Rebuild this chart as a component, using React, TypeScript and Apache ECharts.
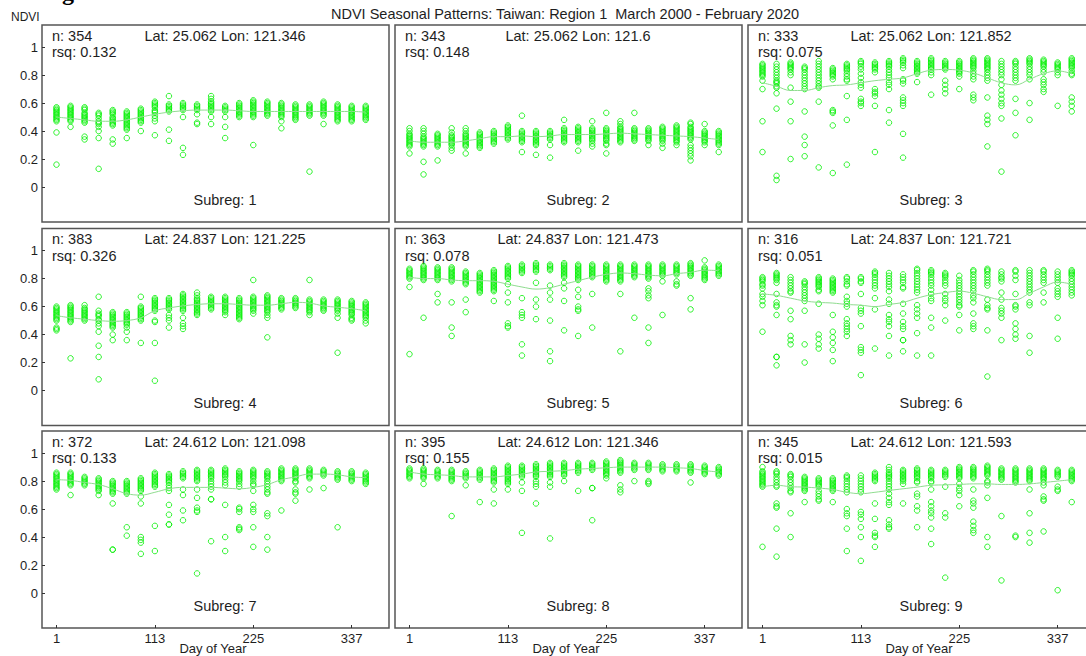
import React, { useEffect, useRef } from "react";
import * as echarts from "echarts";

const DAYS = [1, 17, 33, 49, 65, 81, 97, 113, 129, 145, 161, 177, 193, 209, 225, 241, 257, 273, 289, 305, 321, 337, 353];
const X_TICKS = [1, 113, 225, 337];
const Y_TICKS = [0, 0.2, 0.4, 0.6, 0.8, 1];
const TITLE = "NDVI Seasonal Patterns: Taiwan: Region 1  March 2000 - February 2020";
const SUBREGS = [1, 2, 3, 4, 5, 6, 7, 8, 9];
const N_OBS = [354, 343, 333, 383, 363, 316, 372, 395, 345];
const RSQ = ["0.132", "0.148", "0.075", "0.326", "0.078", "0.051", "0.133", "0.155", "0.015"];
const LAT = ["25.062", "25.062", "25.062", "24.837", "24.837", "24.837", "24.612", "24.612", "24.612"];
const LON = ["121.346", "121.6", "121.852", "121.225", "121.473", "121.721", "121.098", "121.346", "121.593"];

// NDVI values (x100) per 16-day composite column
const P1 = [
  [57,56,55,54,53,52,51,50,49,48,47,39,16],
  [58,57,56,55,54,53,52,51,50,49,48,47,43],
  [57,56,55,53,52,51,50,49,48,47,46,36,34],
  [53,52,51,49,47,46,45,43,40,35,13],
  [55,54,53,52,50,49,48,47,46,45,44,34,31],
  [54,53,52,51,50,49,48,47,46,45,44,43,42,41,35],
  [56,55,54,53,52,51,50,49,48,47,46,40],
  [61,60,59,58,57,55,54,53,51,49,47,37],
  [65,59,58,57,56,55,54,41,33],
  [60,59,58,57,56,55,50,28,23],
  [59,58,57,56,55,52,46,45],
  [65,63,61,60,59,58,57,56,55,54,50,45],
  [58,57,56,55,54,50,43,35],
  [60,59,58,57,56,55,54,53,52,51,50],
  [62,61,60,59,58,57,56,55,54,53,52,51,50,30],
  [61,60,59,58,57,56,55,54,53,52,51],
  [60,59,58,57,56,55,54,53,52,51,50,47,42],
  [59,58,57,56,55,54,53,52,51,50,49,48],
  [59,58,57,56,55,54,53,52,51,11],
  [61,60,59,58,57,56,55,54,53,52,51,45],
  [59,58,57,56,55,54,53,52,51,50,49,48,47],
  [58,57,56,55,54,53,52,51,50,49,48,47],
  [58,57,56,55,54,53,52,51,50,49,48],
];
const P2 = [
  [42,40,38,37,36,35,34,33,32,31,30,29,24],
  [42,40,38,36,35,34,33,32,31,30,29,18,9],
  [38,37,36,35,34,33,32,31,30,29,19],
  [42,39,37,36,35,34,33,32,31,30,28,26],
  [42,40,38,37,36,35,34,33,32,31,30,29,24],
  [39,38,37,36,35,34,33,32,31,30,29,28],
  [40,39,38,37,36,35,34,33,32,31],
  [44,43,42,41,40,39,38,37,36,35,34],
  [51,40,39,38,37,36,35,34,33,32,25],
  [40,39,38,37,36,35,34,33,32,31,30,23],
  [40,39,38,37,36,35,34,30,21],
  [48,42,41,40,39,38,37,36,35,34,33,32],
  [43,42,41,40,39,38,37,36,35,34,33,32,26],
  [47,42,41,40,39,38,37,36,35,34,33,31,29],
  [53,42,41,40,39,38,37,36,35,34,33,31,30,24],
  [47,45,43,42,41,40,39,38,37,36,35,34,33,32],
  [53,42,41,40,39,38,37,36,35,34,33],
  [42,41,40,39,38,37,36,35,34,33,30],
  [43,42,41,40,39,38,37,36,35,34,33,31,28],
  [44,43,42,41,40,39,38,37,36,35,34,33,32,30],
  [46,45,43,42,41,40,39,38,37,36,35,34,30,28,26,24,22,19],
  [45,40,39,38,37,36,35,34,33,32,30],
  [40,39,38,37,36,35,34,33,32,31,30,25],
];
const P3 = [
  [88,87,86,85,84,83,82,81,80,79,76,70,47,25],
  [88,86,84,82,80,78,76,75,74,72,71,67,56,8,5],
  [89,88,87,86,85,84,82,80,71,61,47,20],
  [86,85,84,82,80,78,76,74,72,70,54,36,30,22],
  [90,88,86,84,82,80,78,76,74,72,71,61,14],
  [85,84,83,82,81,80,79,77,55,54,53,44,10],
  [88,87,86,85,84,83,81,79,77,76,65,48,16],
  [90,89,88,86,84,81,78,75,73,71,63,61,60,58],
  [89,88,87,86,85,84,82,70,68,67,65,58,25],
  [90,89,88,87,86,84,82,80,78,75,73,70,55,46],
  [92,91,90,89,87,85,77,76,74,64,62,60,58,38,21],
  [90,89,88,87,86,85,84,83,82,81,75],
  [92,91,90,89,88,87,86,85,84,82,80,66],
  [90,89,88,87,86,85,84,76,73,70,67],
  [90,89,88,87,86,85,84,83,82,81,79,70],
  [92,91,90,89,88,87,86,85,83,81,79,77,66,64,62],
  [92,91,90,89,88,87,86,85,84,82,80,78,76,64,51,48,45,29],
  [90,88,86,84,82,80,77,73,69,66,63,60,58,49,11],
  [90,89,88,86,84,82,80,78,76,63,53,37],
  [92,91,90,89,88,86,84,82,80,77,60,48],
  [91,90,89,88,87,86,84,82,77,75,73,70,68],
  [89,88,87,86,85,84,82,80,58],
  [92,91,90,89,88,87,86,85,83,81,80,64,61,58,54],
];
const P4 = [
  [60,59,58,57,56,55,54,53,52,51,50,45,44,43],
  [61,60,59,58,57,56,55,54,53,52,51,50,49,23],
  [61,59,58,57,56,55,54,53,52,51,50],
  [67,57,55,54,53,51,50,48,46,42,32,24,8],
  [56,55,54,53,52,51,50,49,48,47,46,45,40,36],
  [56,55,54,53,52,51,50,49,48,47,45,42,36],
  [67,60,59,58,57,56,55,54,53,52,51,50,34],
  [66,65,64,63,62,61,60,59,58,57,50,49,34,7],
  [66,65,64,63,62,61,60,59,58,54,52,50,45],
  [69,68,67,66,65,64,63,62,61,60,59,58,57,52,48,46,44],
  [70,68,66,65,64,63,62,61,60,59,58,57,56,55,54],
  [67,66,65,64,63,62,61,60,59,58],
  [67,66,65,64,63,62,61,60,59,58,57,56,54],
  [66,65,64,63,62,61,60,59,58,57,56,55,54,53,52,51],
  [79,67,66,65,64,63,62,61,60,59,58,57,55],
  [68,67,66,65,64,63,62,61,60,59,58,57,56,54,52,38],
  [66,65,64,63,62,61,60,59,58],
  [66,65,64,63,62,61,60,59],
  [79,65,64,63,62,61,60,59,58,57,56,54],
  [65,64,63,62,61,60,59,58,57],
  [65,64,63,62,61,60,59,58,57,55,52,27],
  [64,63,62,61,60,59,58,57,56,55,54,52,51,50],
  [63,62,61,60,59,58,57,56,55,54,53,52,50,48],
];
const P5 = [
  [87,86,85,84,83,82,81,80,74,26],
  [89,88,87,86,85,84,83,82,81,80,79,52],
  [88,87,86,85,84,83,82,81,80,79,69,63],
  [88,87,86,85,84,83,82,81,80,79,78,63,45,39],
  [85,84,83,82,81,80,79,78,77,76,65,56],
  [84,83,82,81,80,79,78,77,76,75,74,73,72,71,70],
  [86,85,84,83,82,81,80,79,78,77,76,75,74,73,72,71,64],
  [89,88,87,86,85,84,83,82,81,80,76,70,63,48,46,45],
  [90,89,88,87,86,85,84,66,56,54,52,33,25],
  [91,90,89,88,87,86,85,77,65,60,51],
  [90,89,88,87,86,75,70,65,50,28,21],
  [91,90,89,88,87,86,85,84,83,82,81,77,73,64,43],
  [90,89,88,87,86,85,84,83,82,81,80,79,72,67,60,58,57,39],
  [90,89,88,87,86,85,84,83,82,81,69,45],
  [90,89,88,87,86,85,84,83,82,81,80,79,78],
  [90,89,88,87,86,85,84,83,82,81,80,79,78,69,28],
  [90,89,88,87,86,85,84,83,82,81,52],
  [90,89,88,87,86,85,84,83,82,81,80,73,71,68,66,45,34],
  [90,89,88,87,86,85,84,83,82,78,54],
  [90,89,88,87,86,85,84,83,78,76,75],
  [91,90,89,88,87,86,85,84,83,82,66,58],
  [93,88,87,86,85,84,83,82,81,80,79],
  [90,89,88,87,86,85,84,83,82],
];
const P6 = [
  [81,80,79,78,76,75,73,69,67,64,61,42],
  [84,83,82,81,80,79,77,69,63,61,60,54,24,24,18],
  [81,79,77,75,73,71,70,57,51,39,36,33],
  [78,77,76,74,72,70,68,66,64,57,33,20],
  [81,80,79,78,77,76,75,74,72,71,62,40,37,33,30],
  [80,79,78,77,76,75,74,73,72,71,70,54,42,38,34,29,21],
  [81,80,78,76,75,67,64,62,60,51,48,46,44,42,39],
  [81,80,78,77,69,59,57,55,46,31,29,27,11],
  [85,84,83,81,79,77,75,73,66,58,30],
  [84,82,80,78,76,74,71,65,62,54,51,49,46,39,25],
  [83,81,79,77,74,73,62,55,49,46,44,36,36,28],
  [87,86,84,82,80,78,76,74,72,70,61,58,55,52,41,25],
  [86,85,84,83,81,79,77,75,72,69,66,64,52,45,25],
  [84,83,82,81,79,77,75,69,66,64,61,50],
  [82,79,77,75,73,71,69,67,65,63,61,60,54,43],
  [86,85,83,81,79,77,75,73,71,68,66,63,55,48,46,44],
  [87,86,85,83,81,79,77,75,65,61,59,58,43,10],
  [85,83,81,80,78,70,65,59,57,55,52,36],
  [86,85,82,79,69,61,60,58,48,44,40,37],
  [86,84,82,80,78,76,74,72,70,63,61,39,27],
  [86,85,83,81,79,77,70,63],
  [85,83,81,79,77,73,71,69,67,52,37],
  [86,85,84,83,82,80,78,76,74,72,70,68],
];
const P7 = [
  [86,85,84,83,82,81,80,79,78,77,76,75,74],
  [86,85,84,83,82,81,80,79,78,77,70],
  [83,82,81,80,79,78,77],
  [82,81,80,79,78,77,76,75,74,73,70],
  [80,79,78,77,76,75,74,73,72,71,64,31,31],
  [80,79,78,77,76,75,74,73,72,71,47,41],
  [82,81,80,79,78,77,76,75,74,73,69,64,40,38,36,28],
  [86,85,84,83,82,81,80,79,78,77,76,48,30],
  [85,84,83,82,81,80,79,77,75,73,63,56,49,49],
  [87,86,85,84,83,82,74,70,59,52],
  [88,87,86,85,84,83,82,81,80,74,68,61,59,58,14],
  [88,87,86,85,84,83,82,80,78,76,74,67,67,37],
  [89,88,87,86,85,84,83,81,79,77,63,40,30],
  [87,86,85,84,83,82,81,80,78,76,61,60,58,47,46,45],
  [88,87,86,85,84,83,82,80,78,77,73,63,60,58,47,33],
  [87,86,85,84,83,82,80,78,76,74,72,71,57,55,40,31],
  [89,88,87,86,85,84,83,82,81,80,59],
  [89,88,87,86,85,84,83,82,80,79,74,72,71,66],
  [89,88,87,86,85,84,83,82,74],
  [88,87,86,85,84,75],
  [87,86,85,84,83,82,81,47],
  [87,86,85,84,83,82,81,80],
  [86,85,84,83,82,81,80,79,78],
];
const P8 = [
  [89,88,87,86,85,84,83,82],
  [89,88,87,86,85,84,83,82,78],
  [88,87,86,85,84,83,82],
  [88,87,86,85,84,83,82,81,80,55],
  [87,86,85,84,83,82,77],
  [88,87,86,85,84,83,82,81,65],
  [89,88,87,86,85,84,83,82,81,80,79,74,64],
  [91,90,89,88,87,86,85,84,83,82,81,80,79,78,74],
  [91,90,89,88,87,86,85,84,83,79,73,43],
  [92,91,90,89,88,87,86,85,84,83,80,78,76,64],
  [93,92,91,90,89,88,87,86,85,84,83,79,76,39],
  [93,92,91,90,89,88,87,86,85,84,80],
  [93,92,91,90,89,88,87,86,73],
  [93,92,91,90,89,88,75,75,52],
  [94,93,92,91,90,89,88,87,86,85,84,82],
  [95,94,93,92,91,90,89,88,87,86,77,74,72],
  [93,92,91,90,89,88,80],
  [93,92,91,90,89,88,80,79,78],
  [92,91,90,89,88,87],
  [92,91,90,89,88,87],
  [92,91,90,89,88,87,86,79],
  [91,90,89,88,87,86,85],
  [90,89,88,87,86,85,84],
];
const P9 = [
  [90,87,86,85,84,83,82,81,80,79,78,77,76,33],
  [87,86,85,83,81,79,77,76,64,62,61,46,26],
  [85,84,83,81,79,77,75,73,72,57,40],
  [83,82,81,80,79,78,77,76,75,74,73,65],
  [82,81,80,79,78,77,76,73,71,69,67,66],
  [82,81,80,79,78,77,76,75,74,73,65],
  [84,83,82,80,78,76,74,72,60,57,55,46,30],
  [84,82,80,78,76,74,72,58,56,53,47,40,23],
  [86,85,84,83,82,81,80,64,53,43,41,40,33],
  [90,88,86,85,84,83,82,80,78,76,74,71,68,65,63,52,49,47,46],
  [88,87,86,85,84,83,82,81,80,78,64],
  [89,88,87,86,85,84,83,82,80,79,71,69,62,59,47],
  [88,87,86,85,84,83,82,80,79,74,65,62,59,57,54,46,35],
  [88,87,86,85,84,83,76,57,54,11],
  [90,89,88,87,86,85,84,83,82,78,75,73,70,62],
  [90,89,88,87,86,85,84,83,82,74,66,64,61,51,48,45,43],
  [91,90,89,88,87,86,85,84,80,79,77,68,40,33],
  [89,88,87,86,85,84,83,82,81,55,9],
  [89,88,87,86,85,84,83,82,81,80,79,41,40],
  [89,88,87,86,85,84,83,82,81,80,74,57,43,36],
  [89,88,87,86,85,84,83,82,81,79,77,69,67,66,44],
  [88,87,86,85,84,83,76,74,73,2],
  [88,87,86,85,84,83,82,81,80,65],
];

// Smoothed (loess) fit per column (x100)
const FIT1 = [50,49,48,47,47,48,50,52,53.5,54.5,55,55,55,54.5,54,54,54,54,54,54,54,54,53.5];
const FIT2 = [33,32,32,32,33,34.5,36,36,36.5,36,36.5,37.5,37.5,37.5,38,38.5,38,37.5,37,36.5,36,35,34];
const FIT3 = [74.5,72,69,69,71,72.5,73,74.5,76,77,78,81,83.5,84,83.5,81.5,78,74.5,73,77,81,83,81];
const FIT4 = [53.5,52,51,50,49.5,50,52,57,59,60.5,61.5,62,62,61.5,61,61,62,63,62.5,60.5,59.5,58.5,57];
const FIT5 = [81,80,80,79,78.5,78.5,78,76,74,72.5,73.5,76,78.5,81,83,84,83.5,82.5,82,83.5,84.5,86,85.7];
const FIT6 = [69,68,66,64,63,62.5,61.5,61,60,61.5,63,66,68.5,70,71,69.5,67,65,65,69.5,74,77.5,76];
const FIT7 = [81,80.5,79,77.5,74.5,71,70,72,74.5,75.5,75.5,75.5,75,74.5,75.5,77.5,81,83,85,85,84.5,83,82.5];
const FIT8 = [86.5,85,84.5,84,83,83,83,84,85,86.5,87,87.5,88.5,89,89.5,90,90,90,90,89.5,89,87.5,86.5];
const FIT9 = [76,77,76,75.7,75,74,72,71,72,73.3,74.5,75.7,77,77.3,77.6,78,78,77.6,77.6,78,79,80,81];

const PANELS = [P1, P2, P3, P4, P5, P6, P7, P8, P9];
const FITS = [FIT1, FIT2, FIT3, FIT4, FIT5, FIT6, FIT7, FIT8, FIT9];

const FONT = "'Liberation Sans', Arial, sans-serif";
const PANEL_LEFT = [42, 395, 748];
const PANEL_TOP = [25, 228.5, 431];
const PW = 347;
const PH = 197;
const TEXT = "#1e1e1e";

export default function App() {
  const ref = useRef<HTMLDivElement>(null);
  useEffect(() => {
    if (!ref.current) return;
    const chart = echarts.init(ref.current, undefined, { renderer: "svg" });
    const grid: any[] = [];
    const xAxis: any[] = [];
    const yAxis: any[] = [];
    const series: any[] = [];
    const graphic: any[] = [];

    graphic.push({
      type: "text", x: 62, y: 4,
      style: { text: "g", font: "bold 24px 'Liberation Serif', serif", fill: "#000", align: "left", verticalAlign: "bottom" },
    });
    graphic.push({
      type: "text", x: 565, y: 13.5,
      style: { text: TITLE, font: `14.5px ${FONT}`, fill: TEXT, align: "center", verticalAlign: "middle" },
    });
    graphic.push({
      type: "text", x: 11, y: 17,
      style: { text: "NDVI", font: `12px ${FONT}`, fill: TEXT, align: "left", verticalAlign: "middle" },
    });

    for (let p = 0; p < 9; p++) {
      const r = Math.floor(p / 3);
      const c = p % 3;
      const left = PANEL_LEFT[c];
      const top = PANEL_TOP[r];
      const bottomRow = r === 2;
      const firstCol = c === 0;
      grid.push({
        left, top, width: PW, height: PH, show: true,
        borderColor: "#555", borderWidth: 1.5, backgroundColor: "transparent",
        containLabel: false, outerBoundsMode: "none",
      });
      xAxis.push({
        type: "value", gridIndex: p, min: -15.5, max: 379.5, position: "bottom",
        axisLine: { show: false, onZero: false }, splitLine: { show: false },
        axisTick: { show: bottomRow, inside: true, length: 3, customValues: X_TICKS, lineStyle: { color: "#333", width: 1 } },
        axisLabel: { show: bottomRow, customValues: X_TICKS, margin: 4, fontSize: 13, color: TEXT, fontFamily: FONT },
      });
      yAxis.push({
        type: "value", gridIndex: p, min: -0.25, max: 1.158, position: "left",
        axisLine: { show: false, onZero: false }, splitLine: { show: false },
        axisTick: { show: firstCol, inside: true, length: 3, customValues: Y_TICKS, lineStyle: { color: "#333", width: 1 } },
        axisLabel: { show: firstCol, customValues: Y_TICKS, margin: 4, fontSize: 13, color: TEXT, fontFamily: FONT },
      });
      const pts: number[][] = [];
      PANELS[p].forEach((col, i) => col.forEach((v) => pts.push([DAYS[i], v / 100])));
      series.push({
        type: "scatter", xAxisIndex: p, yAxisIndex: p, data: pts,
        symbol: "circle", symbolSize: 5.5, silent: true,
        itemStyle: { color: "rgba(0,0,0,0)", borderColor: "#00f000", borderWidth: 1 },
        z: 2,
      });
      series.push({
        type: "line", xAxisIndex: p, yAxisIndex: p,
        data: FITS[p].map((v, i) => [DAYS[i], v / 100]),
        smooth: 0.4, showSymbol: false, silent: true,
        lineStyle: { color: "#8fdc8f", width: 1 }, z: 3,
      });

      graphic.push({
        type: "text", x: left + 10, y: top + 10.5,
        style: { text: `n: ${N_OBS[p]}`, font: `14.5px ${FONT}`, fill: TEXT, align: "left", verticalAlign: "middle" },
      });
      graphic.push({
        type: "text", x: left + 10, y: top + 27,
        style: { text: `rsq: ${RSQ[p]}`, font: `14.5px ${FONT}`, fill: TEXT, align: "left", verticalAlign: "middle" },
      });
      graphic.push({
        type: "text", x: left + 183, y: top + 10.5,
        style: { text: `Lat: ${LAT[p]} Lon: ${LON[p]}`, font: `14.5px ${FONT}`, fill: TEXT, align: "center", verticalAlign: "middle" },
      });
      graphic.push({
        type: "text", x: left + 183, y: top + 174.5,
        style: { text: `Subreg: ${SUBREGS[p]}`, font: `14.5px ${FONT}`, fill: TEXT, align: "center", verticalAlign: "middle" },
      });
      if (bottomRow) {
        graphic.push({
          type: "text", x: left + 171, y: 648,
          style: { text: "Day of Year", font: `13px ${FONT}`, fill: TEXT, align: "center", verticalAlign: "middle" },
        });
      }
    }

    chart.setOption({
      animation: false,
      backgroundColor: "#ffffff",
      grid, xAxis, yAxis, series, graphic,
    });
    return () => chart.dispose();
  }, []);
  return (
    <div
      ref={ref}
      style={{ position: "absolute", left: 0, top: 0, width: 1086, height: 656 }}
    />
  );
}
